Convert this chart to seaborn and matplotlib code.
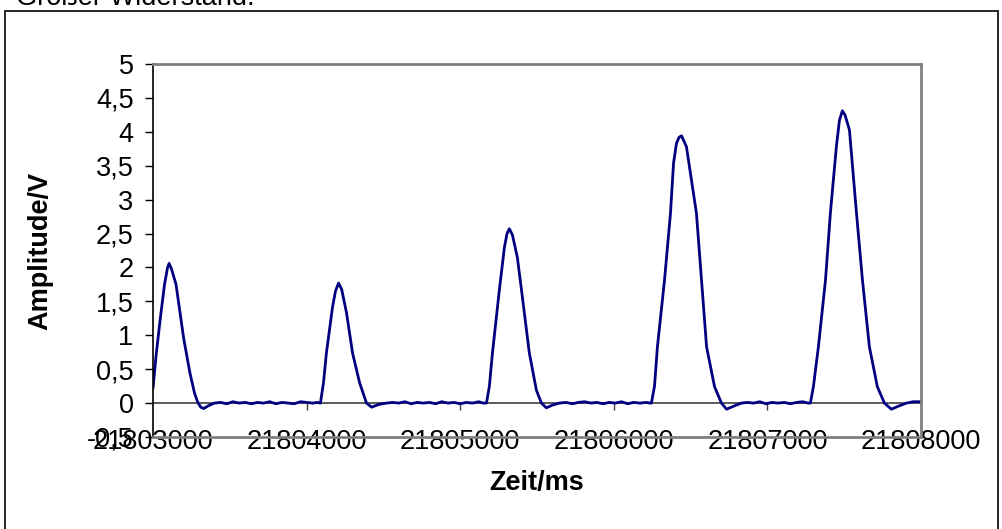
import numpy as np
import pandas as pd
import matplotlib
matplotlib.use("Agg")
import matplotlib.pyplot as plt
import seaborn as sns
from matplotlib.patches import Rectangle
from matplotlib.ticker import FuncFormatter

# =========================
# DATA
# =========================
peak1_t = [21803000, 21803020, 21803045, 21803075, 21803095, 21803105, 21803120,
           21803150, 21803175, 21803200, 21803240, 21803270, 21803290, 21803310,
           21803330, 21803360, 21803400]
peak1_v = [0.22, 0.70, 1.20, 1.75, 2.00, 2.06, 1.98, 1.75, 1.35, 0.95, 0.45,
           0.15, 0.02, -0.06, -0.08, -0.04, 0.00]

base1_t = [21803440, 21803480, 21803520, 21803560, 21803600, 21803640, 21803680,
           21803720, 21803760, 21803800, 21803840, 21803880, 21803920, 21803960,
           21804000, 21804040, 21804070]
base1_v = [0.01, -0.01, 0.02, 0.00, 0.01, -0.01, 0.01, 0.00, 0.02, -0.01, 0.01,
           0.00, -0.01, 0.02, 0.01, 0.00, 0.01]

peak2_t = [21804090, 21804110, 21804129, 21804169, 21804188, 21804208, 21804228,
           21804260, 21804299, 21804345, 21804390, 21804423, 21804470, 21804520]
peak2_v = [0.00, 0.30, 0.74, 1.42, 1.65, 1.77, 1.68, 1.33, 0.74, 0.30, 0.00,
           -0.06, -0.02, 0.00]

base2_t = [21804560, 21804600, 21804640, 21804680, 21804720, 21804760, 21804800,
           21804840, 21804880, 21804920, 21804960, 21805000, 21805040, 21805080,
           21805120, 21805150]
base2_v = [0.01, 0.00, 0.02, -0.01, 0.01, 0.00, 0.01, -0.01, 0.02, 0.00, 0.01,
           -0.01, 0.01, 0.00, 0.02, 0.00]

peak3_t = [21805171, 21805190, 21805210, 21805255, 21805288, 21805305, 21805320,
           21805340, 21805372, 21805405, 21805450, 21805496, 21805529, 21805561,
           21805600, 21805646]
peak3_v = [0.00, 0.25, 0.74, 1.67, 2.30, 2.50, 2.57, 2.48, 2.15, 1.56, 0.74,
           0.19, 0.00, -0.07, -0.03, 0.00]

base3_t = [21805690, 21805730, 21805770, 21805810, 21805850, 21805890, 21805930,
           21805970, 21806010, 21806050, 21806090, 21806130, 21806170, 21806210,
           21806235]
base3_v = [0.01, -0.01, 0.01, 0.02, 0.00, 0.01, -0.01, 0.01, 0.00, 0.02, -0.01,
           0.01, 0.00, 0.01, 0.00]

peak4_t = [21806245, 21806265, 21806284, 21806330, 21806369, 21806389, 21806408,
           21806425, 21806441, 21806473, 21806538, 21806571, 21806604, 21806656,
           21806701, 21806734, 21806786, 21806831]
peak4_v = [0.00, 0.25, 0.83, 1.81, 2.80, 3.54, 3.83, 3.92, 3.94, 3.78, 2.80,
           1.81, 0.83, 0.24, 0.00, -0.09, -0.04, 0.00]

base4_t = [21806870, 21806910, 21806950, 21806990, 21807030, 21807070, 21807110,
           21807150, 21807190, 21807230, 21807265]
base4_v = [0.01, 0.00, 0.02, -0.01, 0.01, 0.00, 0.01, -0.01, 0.01, 0.02, 0.00]

peak5_t = [21807280, 21807300, 21807332, 21807378, 21807410, 21807449, 21807469,
           21807488, 21807505, 21807534, 21807580, 21807619, 21807664, 21807716,
           21807762, 21807807, 21807859, 21807905, 21807950, 21807996, 21808000]
peak5_v = [0.00, 0.25, 0.83, 1.81, 2.80, 3.78, 4.17, 4.31, 4.25, 4.03, 2.80,
           1.81, 0.83, 0.24, 0.00, -0.09, -0.04, 0.00, 0.02, 0.02, 0.01]

y_ticks = [-0.5, 0, 0.5, 1, 1.5, 2, 2.5, 3, 3.5, 4, 4.5, 5]
x_ticks = [21803000, 21804000, 21805000, 21806000, 21807000, 21808000]

df = pd.DataFrame({
    "Zeit": peak1_t + base1_t + peak2_t + base2_t + peak3_t + base3_t
            + peak4_t + base4_t + peak5_t,
    "Amplitude": peak1_v + base1_v + peak2_v + base2_v + peak3_v + base3_v
                 + peak4_v + base4_v + peak5_v,
})

# =========================
# STYLE
# =========================
sns.set_style("white")
plt.rcParams["font.family"] = ["Liberation Sans", "DejaVu Sans"]
plt.rcParams["text.color"] = "black"
plt.rcParams["axes.labelcolor"] = "black"
plt.rcParams["xtick.color"] = "black"
plt.rcParams["ytick.color"] = "black"

FS = 19.5

fig = plt.figure(figsize=(10.03, 5.29), dpi=100)
ax = fig.add_axes([153 / 1003, 1 - 437 / 529, (921 - 153) / 1003, (437 - 64) / 529])

sns.lineplot(data=df, x="Zeit", y="Amplitude", color="#000080", linewidth=2.0,
             ax=ax, estimator=None, sort=True)

ax.set_xlim(x_ticks[0], x_ticks[-1])
ax.set_ylim(y_ticks[0], y_ticks[-1])

# zero line with its own ticks (Excel style axis crossing at 0)
ax.axhline(0, color="#404040", linewidth=1.2, zorder=1)
zero_ax = ax.secondary_xaxis((0 - y_ticks[0]) / (y_ticks[-1] - y_ticks[0]))
zero_ax.set_xticks(x_ticks[1:-1])
zero_ax.tick_params(axis="x", direction="out", length=5, width=1,
                    color="#404040", labelbottom=False)
zero_ax.spines["bottom"].set_visible(False)

ax.set_yticks(y_ticks)
ax.yaxis.set_major_formatter(FuncFormatter(lambda v, p: f"{v:g}".replace(".", ",")))
ax.set_xticks(x_ticks)
ax.xaxis.set_major_formatter(FuncFormatter(lambda v, p: f"{int(v)}"))

ax.tick_params(axis="y", direction="out", length=6, width=1, color="black",
               labelsize=FS, pad=8, left=True)
ax.tick_params(axis="x", length=0, labelsize=FS, pad=-6)

for side in ["top", "right", "bottom"]:
    ax.spines[side].set_color("#808080")
    ax.spines[side].set_linewidth(2)
ax.spines["left"].set_color("black")
ax.spines["left"].set_linewidth(1.2)

ax.set_xlabel("Zeit/ms", fontsize=FS, fontweight="bold", labelpad=11)
ax.set_ylabel("Amplitude/V", fontsize=FS, fontweight="bold", labelpad=24)

# outer chart border and cut-off heading
fig.patches.append(Rectangle((5 / 1003, -0.05), (998 - 5) / 1003, 1.05 - 11 / 529,
                             transform=fig.transFigure, fill=False,
                             edgecolor="black", linewidth=1.2))
fig.text(16 / 1003, 1 - 5 / 529, "Großer Widerstand.", fontsize=FS,
         va="baseline", ha="left")

fig.savefig("out.png", dpi=100)
